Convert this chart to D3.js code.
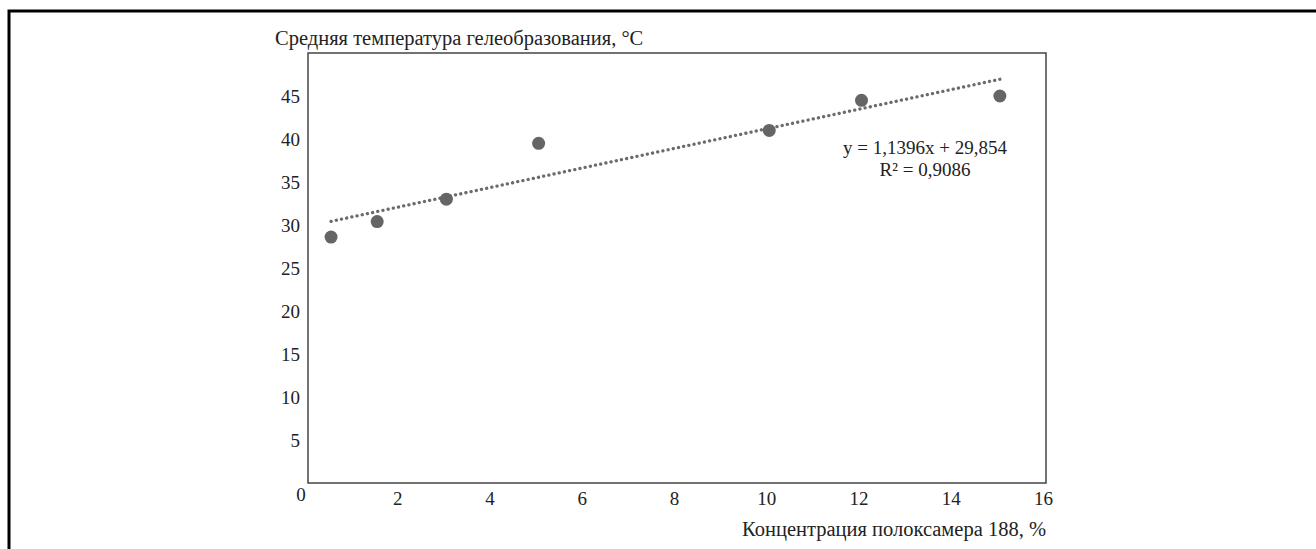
<!DOCTYPE html>
<html>
<head>
<meta charset="utf-8">
<script src="https://cdn.jsdelivr.net/npm/d3@7"></script>
<style>
  body { margin: 0; background: #fff; }
</style>
</head>
<body>
<div id="chart"></div>
<script>
// data
const concentration = [0.5, 1.5, 3, 5, 10, 12, 15];
const gelTemp = [28.6, 30.4, 33.0, 39.5, 41.0, 44.5, 45.0];
const yTicks = [5, 10, 15, 20, 25, 30, 35, 40, 45];
const xTicks = [2, 4, 6, 8, 10, 12, 14, 16];
const trendSlope = 1.1396, trendIntercept = 29.854;
const eqLabels = ["y = 1,1396x + 29,854", "R² = 0,9086"];

const width = 1316, height = 549;
const margin = { top: 53, right: 270, bottom: 66, left: 308 };
const serif = "'Liberation Serif', 'Times New Roman', serif";

const svg = d3.select("#chart").append("svg")
  .attr("width", width)
  .attr("height", height)
  .style("font-family", serif);

// outer frame (top + left only)
svg.append("path")
  .attr("d", `M9,${height} V11 H${width}`)
  .attr("fill", "none")
  .attr("stroke", "#000")
  .attr("stroke-width", 3);

const x = d3.scaleLinear().domain([0, 16]).range([margin.left, width - margin.right]);
const y = d3.scaleLinear().domain([0, 50]).range([height - margin.bottom, margin.top]);

// plot box
svg.append("rect")
  .attr("x", x(0)).attr("y", y(50))
  .attr("width", x(16) - x(0)).attr("height", y(0) - y(50))
  .attr("fill", "none")
  .attr("stroke", "#444")
  .attr("stroke-width", 1.5);

// y axis labels
const yAxis = d3.axisLeft(y).tickValues(yTicks).tickSize(0).tickPadding(8);
svg.append("g")
  .attr("transform", `translate(${x(0)},0)`)
  .call(yAxis)
  .call(g => g.select(".domain").remove())
  .attr("font-family", serif)
  .selectAll("text")
  .style("font-size", "19px").attr("fill", "#222").attr("dy", "0.33em");

// x axis labels
const xAxis = d3.axisBottom(x).tickValues(xTicks).tickSize(0).tickPadding(9);
svg.append("g")
  .attr("transform", `translate(-3,${y(0)})`)
  .call(xAxis)
  .call(g => g.select(".domain").remove())
  .attr("font-family", serif)
  .selectAll("text")
  .style("font-size", "19px").attr("fill", "#222").attr("dy", "0.71em");

// shared zero
svg.append("text")
  .attr("x", x(0) - 7).attr("y", y(0) + 18)
  .attr("text-anchor", "middle")
  .attr("fill", "#222")
  .style("font-size", "19px")
  .text("0");

// trend line
const trendX = [d3.min(concentration), d3.max(concentration)];
svg.append("line")
  .attr("x1", x(trendX[0])).attr("y1", y(trendSlope * trendX[0] + trendIntercept))
  .attr("x2", x(trendX[1])).attr("y2", y(trendSlope * trendX[1] + trendIntercept))
  .attr("stroke", "#6b6b6d")
  .attr("stroke-width", 3.3)
  .attr("stroke-linecap", "round")
  .attr("stroke-dasharray", "0.1 5.2");

// points
svg.append("g").selectAll("circle")
  .data(concentration.map((c, i) => ({ c, t: gelTemp[i] })))
  .join("circle")
  .attr("cx", d => x(d.c))
  .attr("cy", d => y(d.t))
  .attr("r", 6.5)
  .attr("fill", "#656567");

// equation
svg.append("g").selectAll("text")
  .data(eqLabels)
  .join("text")
  .attr("x", 925)
  .attr("y", (d, i) => 154 + i * 22)
  .attr("text-anchor", "middle")
  .attr("fill", "#222")
  .style("font-size", "19px")
  .text(d => d);

// axis titles
svg.append("text")
  .attr("x", 275).attr("y", 45)
  .attr("fill", "#222")
  .style("font-size", "20.5px")
  .text("Средняя температура гелеобразования, °C");

svg.append("text")
  .attr("x", x(16)).attr("y", 536)
  .attr("text-anchor", "end")
  .attr("fill", "#222")
  .style("font-size", "20.5px")
  .text("Концентрация полоксамера 188, %");
</script>
</body>
</html>
